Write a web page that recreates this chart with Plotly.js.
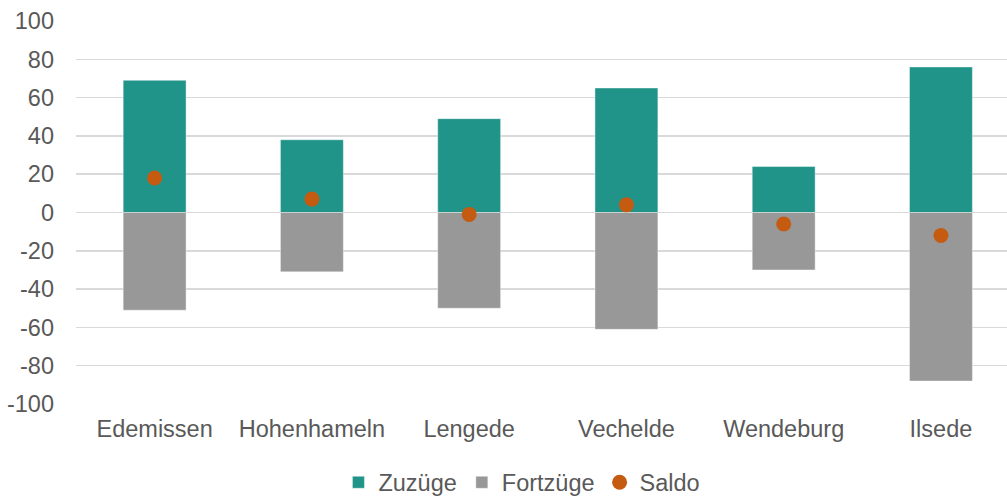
<!DOCTYPE html>
<html>
<head>
<meta charset="utf-8">
<script src="https://cdn.plot.ly/plotly-3.0.1.min.js"></script>
<style>html,body{margin:0;padding:0;background:#fff;}#chart{width:1007px;height:496px;}</style>
</head>
<body>
<div id="chart"></div>
<script>
const categories = ["Edemissen", "Hohenhameln", "Lengede", "Vechelde", "Wendeburg", "Ilsede"];
const zuzuege = [69, 38, 49, 65, 24, 76];
const fortzuege = [-51, -31, -50, -61, -30, -88];
const saldo = [18, 7, -1, 4, -6, -12];
const yTicks = [100, 80, 60, 40, 20, 0, -20, -40, -60, -80, -100];

const font = {family: "Liberation Sans, Arial, sans-serif", size: 23.5, color: "#595959"};

const data = [
  {type: "bar", name: "Zuzüge", x: categories, y: zuzuege,
   marker: {color: "#21948A", line: {color: "rgba(255,255,255,0.4)", width: 1}}, hoverinfo: "skip"},
  {type: "bar", name: "Fortzüge", x: categories, y: fortzuege,
   marker: {color: "#989898", line: {color: "rgba(255,255,255,0.4)", width: 1}}, hoverinfo: "skip"},
  {type: "scatter", mode: "markers", name: "Saldo", x: categories, y: saldo,
   marker: {color: "#C55A11", size: 15}, hoverinfo: "skip"}
];

const layout = {
  width: 1007, height: 496,
  margin: {l: 76, r: 0, t: 21, b: 92, autoexpand: false},
  paper_bgcolor: "#fff", plot_bgcolor: "#fff",
  font: font,
  barmode: "relative",
  bargap: 0.6,
  showlegend: true,
  legend: {orientation: "h", x: 0.479, xanchor: "center", y: -0.205, yanchor: "middle",
           font: font, itemwidth: 30, tracegroupgap: 0},
  xaxis: {type: "category", range: [-0.5, 5.42], showgrid: false, zeroline: false,
          showline: false, ticks: "", ticklabelstandoff: 8, tickfont: font, fixedrange: true},
  yaxis: {range: [-100, 100], tickvals: yTicks, ticktext: yTicks.map(String),
          showgrid: true, gridcolor: "#d9d9d9", gridwidth: 1.5,
          zeroline: true, zerolinecolor: "#d9d9d9", zerolinewidth: 1.5,
          showline: false, ticks: "", ticklabelstandoff: 21, tickfont: font, fixedrange: true}
};

Plotly.newPlot("chart", data, layout, {displayModeBar: false, staticPlot: true});
</script>
</body>
</html>
